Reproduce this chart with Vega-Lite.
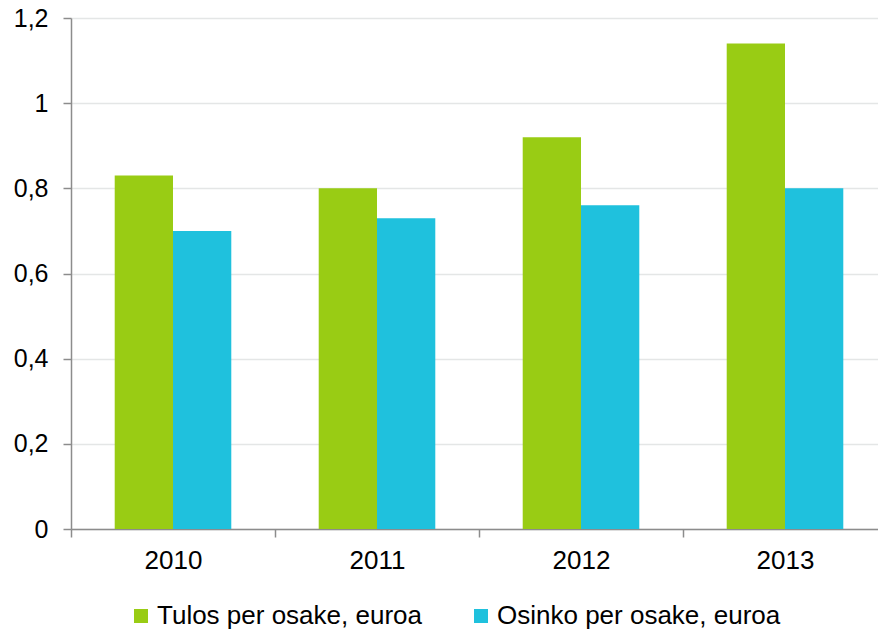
{
  "$schema": "https://vega.github.io/schema/vega-lite/v6.json",
  "autosize": {"type": "none"},
  "width": 807,
  "height": 511,
  "padding": {"left": 71, "top": 18, "right": 0, "bottom": 100},
  "background": "white",
  "config": {
    "view": {"stroke": null},
    "font": "Liberation Sans",
    "axis": {"labelFont": "Liberation Sans", "labelColor": "#000000"},
    "legend": {"labelFont": "Liberation Sans", "labelColor": "#000000"}
  },
  "data": {
    "values": [
      {"year": "2010", "series": "Tulos per osake, euroa", "value": 0.83},
      {"year": "2010", "series": "Osinko per osake, euroa", "value": 0.70},
      {"year": "2011", "series": "Tulos per osake, euroa", "value": 0.80},
      {"year": "2011", "series": "Osinko per osake, euroa", "value": 0.73},
      {"year": "2012", "series": "Tulos per osake, euroa", "value": 0.92},
      {"year": "2012", "series": "Osinko per osake, euroa", "value": 0.76},
      {"year": "2013", "series": "Tulos per osake, euroa", "value": 1.14},
      {"year": "2013", "series": "Osinko per osake, euroa", "value": 0.80}
    ]
  },
  "mark": {"type": "bar", "clip": false},
  "encoding": {
    "x": {
      "field": "year",
      "type": "nominal",
      "scale": {"paddingInner": 0, "paddingOuter": 0, "range": [0, 816]},
      "axis": {
        "title": null,
        "labelAngle": 0,
        "labelFontSize": 26,
        "labelPadding": 10,
        "tickBand": "extent",
        "tickSize": 8,
        "tickColor": "#8c8c8c",
        "tickWidth": 1.5,
        "domainColor": "#8c8c8c",
        "domainWidth": 1.5,
        "grid": false
      }
    },
    "xOffset": {
      "field": "series",
      "type": "nominal",
      "sort": ["Tulos per osake, euroa", "Osinko per osake, euroa"],
      "scale": {"paddingInner": 0, "paddingOuter": 0.75}
    },
    "y": {
      "field": "value",
      "type": "quantitative",
      "scale": {"domain": [0, 1.2], "nice": false},
      "axis": {
        "title": null,
        "values": [0, 0.2, 0.4, 0.6, 0.8, 1, 1.2],
        "labelExpr": "replace(format(datum.value, '.1~f'), '.', ',')",
        "labelFontSize": 25,
        "labelPadding": 15,
        "tickSize": 8,
        "tickColor": "#8c8c8c",
        "tickWidth": 1.5,
        "domainColor": "#8c8c8c",
        "domainWidth": 1.5,
        "gridColor": "#e4e6e6",
        "gridWidth": 1.5
      }
    },
    "color": {
      "field": "series",
      "type": "nominal",
      "scale": {
        "domain": ["Tulos per osake, euroa", "Osinko per osake, euroa"],
        "range": ["#99cc14", "#1fc1dd"]
      },
      "legend": {
        "title": null,
        "orient": "none",
        "direction": "horizontal",
        "legendX": 57,
        "legendY": 585,
        "padding": 0,
        "symbolType": "square",
        "symbolSize": 196,
        "symbolStrokeWidth": 0,
        "labelFontSize": 26,
        "labelLimit": 0,
        "labelOffset": 3,
        "columnPadding": 46
      }
    }
  }
}
